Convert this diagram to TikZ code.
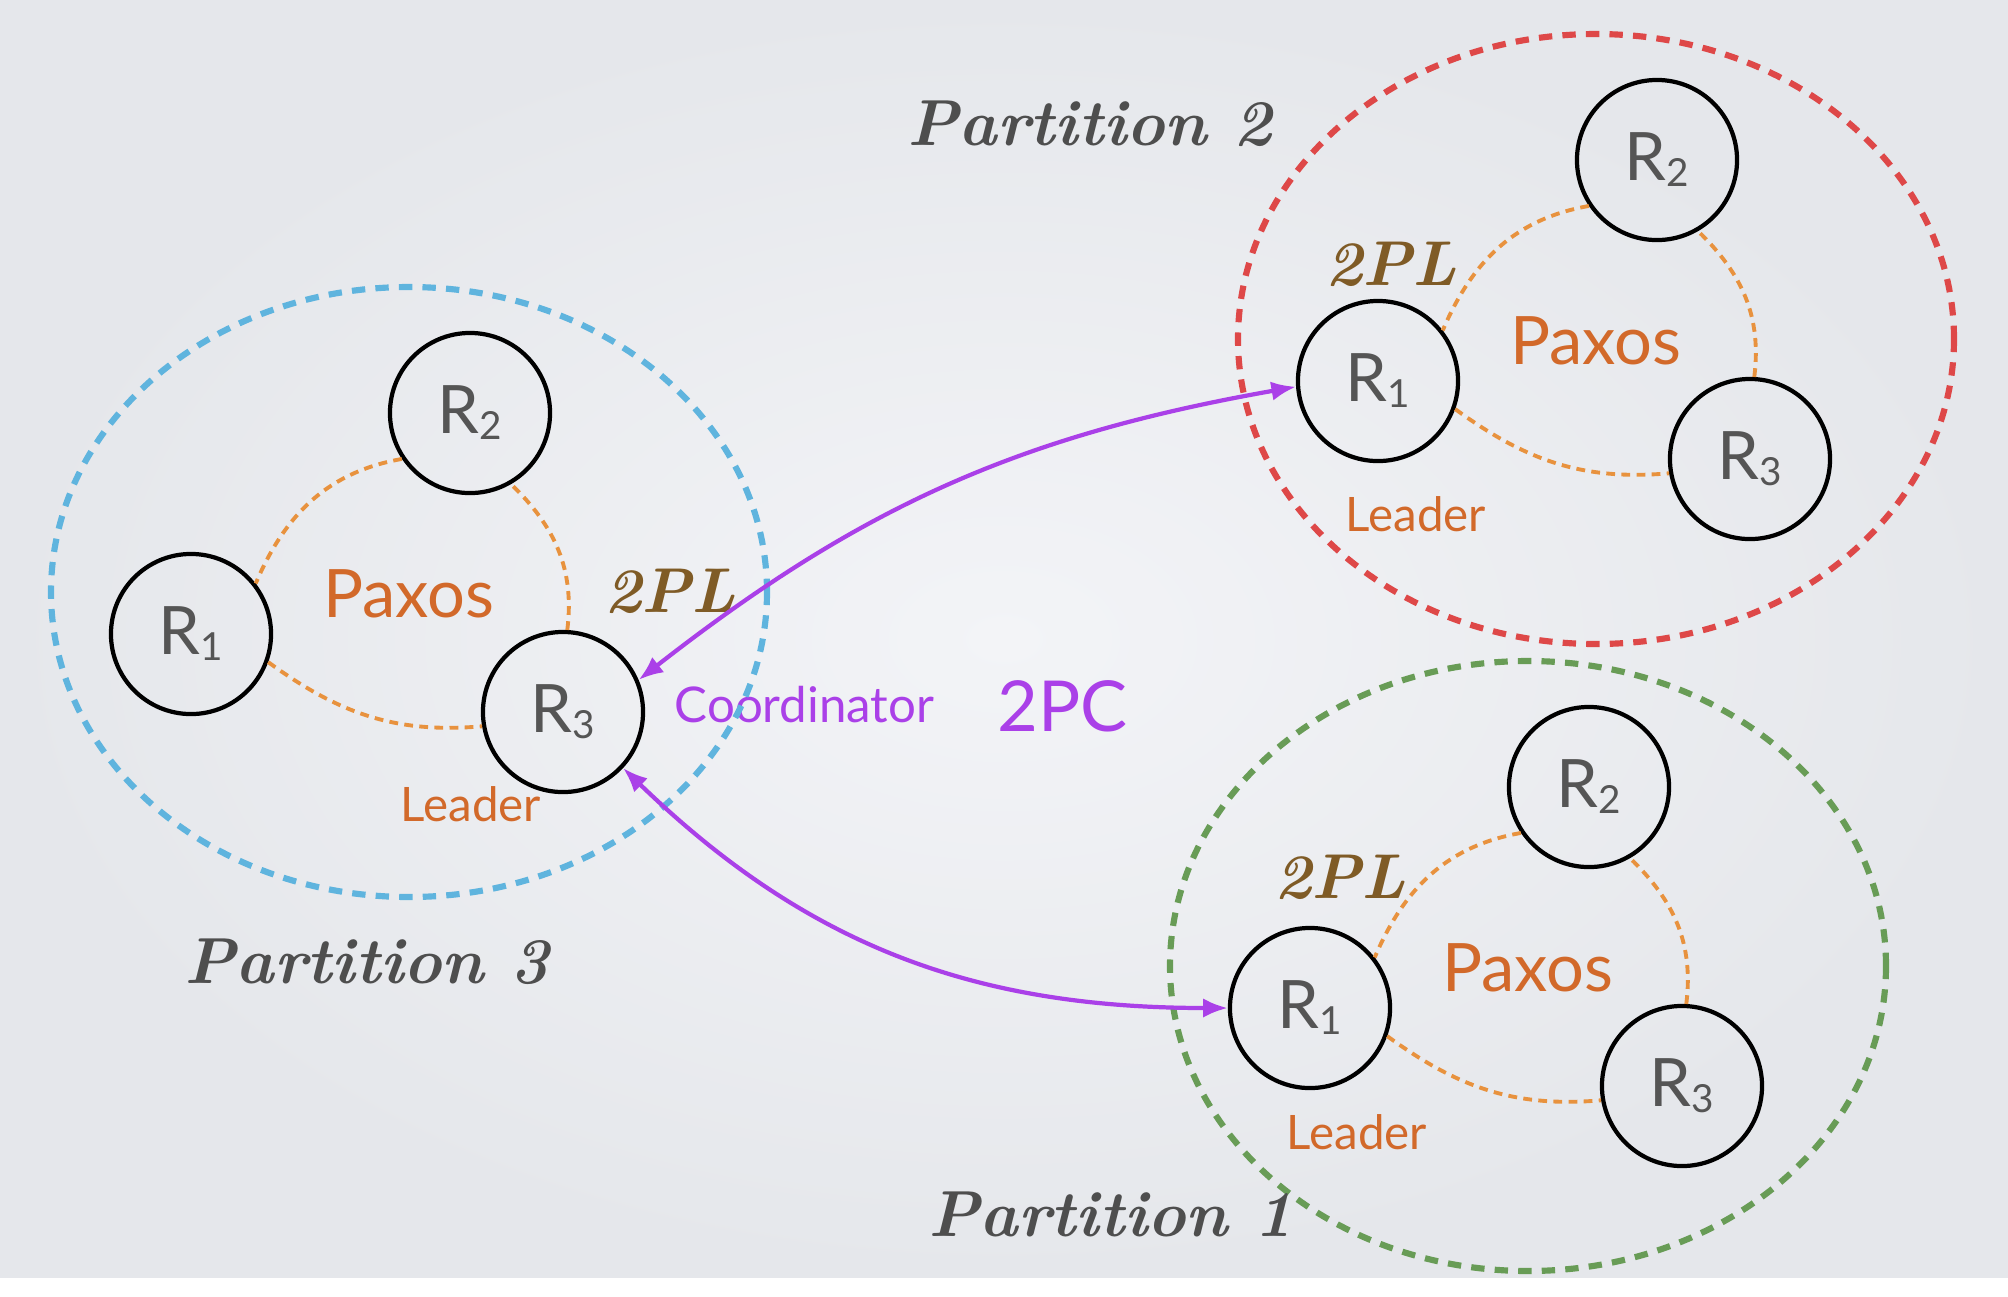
\documentclass[tikz,border=0pt]{standalone}
\usepackage{fontspec}
\setmainfont{Lato}
\newfontfamily\handfont{Latin Modern Roman}
\usetikzlibrary{arrows.meta}
\definecolor{bgin}{RGB}{243,244,247}
\definecolor{bgout}{RGB}{229,231,235}
\definecolor{pblue}{RGB}{95,180,222}
\definecolor{pred}{RGB}{222,72,72}
\definecolor{pgreen}{RGB}{104,156,86}
\definecolor{paxline}{RGB}{232,146,62}
\definecolor{paxtext}{RGB}{210,105,42}
\definecolor{rgray}{RGB}{85,85,85}
\definecolor{htext}{RGB}{78,78,78}
\definecolor{plbrown}{RGB}{127,91,38}
\definecolor{cpurple}{RGB}{170,64,232}
\newcommand{\rsub}[1]{\raisebox{-1.7pt}{\fontsize{11}{11}\selectfont #1}}
\tikzset{
  partline/.style={line width=1.75pt, dash pattern=on 3.8pt off 2.9pt},
  paxos/.style={draw=paxline, line width=1.1pt, dash pattern=on 2.5pt off 1.8pt},
  rep/.style={circle, draw=black, line width=1.2pt, minimum size=1.6cm, inner sep=0pt,
    text=rgray, font=\fontsize{19}{19}\selectfont},
  paxlabel/.style={text=paxtext, inner sep=0pt, font=\fontsize{19}{19}\selectfont},
  leaderlabel/.style={text=paxtext, inner sep=0pt, anchor=base, font=\fontsize{13.5}{13.5}\selectfont},
  twopl/.style={text=plbrown, inner sep=0pt, font=\handfont\bfseries\itshape\fontsize{18}{18}\selectfont},
  partlabel/.style={text=htext, inner sep=0pt, anchor=base, font=\handfont\bfseries\itshape\fontsize{18.5}{18.5}\selectfont},
  coordarrow/.style={draw=cpurple, line width=1.2pt,
    {Latex[length=7pt,width=5.5pt]}-{Latex[length=7pt,width=5.5pt]}},
  purpletext/.style={text=cpurple, inner sep=0pt, anchor=base west}
}
\newcommand{\partgroup}[4]{%
  \begin{scope}[shift={(#2,-#3)}]
    \draw[partline,draw=#4] (0,0) ellipse [x radius=358, y radius=305];
    \node[rep] (#1r1) at (-218,-42) {R\rsub{1}};
    \node[rep] (#1r2) at (61,179) {R\rsub{2}};
    \node[rep] (#1r3) at (154,-120) {R\rsub{3}};
    \node[paxlabel] (#1pax) at (0,-2) {Paxos};
  \end{scope}
  \draw[paxos] (#1r2.214) to[out=190,in=67] (#1r1.38);
  \draw[paxos] (#1r1.-20) to[out=-36,in=185] (#1r3.190);
  \draw[paxos] (#1r3.87) to[out=83,in=316] (#1r2.300);
}
\begin{document}
\begin{tikzpicture}[x=0.01cm,y=0.01cm]
\useasboundingbox (0,0) rectangle (2008,-1296);
\shade[inner color=bgin, outer color=bgout] (0,0) rectangle (2008,-1278);
\fill[white] (0,-1278) rectangle (2008,-1296);

% text under the dashed lines
\node[purpletext, font=\fontsize{14}{14}\selectfont] (coord) at (674,-722) {Coordinator};
\node[purpletext, font=\fontsize{20}{20}\selectfont] (twopc) at (997,-731) {2PC};

\partgroup{p3}{409}{592}{pblue}
\partgroup{p2}{1596}{339}{pred}
\partgroup{p1}{1528}{966}{pgreen}

% leaders
\node[leaderlabel] (p3lead) at (471,-821) {Leader};
\node[leaderlabel] (p2lead) at (1416,-531) {Leader};
\node[leaderlabel] (p1lead) at (1357,-1149) {Leader};

% 2PL
\node[twopl] (p3pl) at (670,-591) {2PL};
\node[twopl] (p2pl) at (1391,-264) {2PL};
\node[twopl] (p1pl) at (1340,-877) {2PL};

% partition labels
\node[partlabel] (p2name) at (1090,-145) {Partition 2};
\node[partlabel] (p3name) at (367,-983) {Partition 3};
\node[partlabel] (p1name) at (1111,-1236) {Partition 1};

% 2PC arrows
\draw[coordarrow] (p3r3.23) to[out=38,in=190] (p2r1.184);
\draw[coordarrow] (p3r3.-43) to[out=-44,in=180] (p1r1.180);
\end{tikzpicture}
\end{document}
